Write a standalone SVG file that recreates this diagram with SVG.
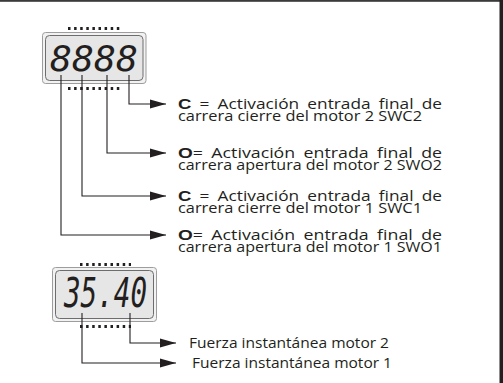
<svg xmlns="http://www.w3.org/2000/svg" width="503" height="383" viewBox="0 0 503 383">
<style>
.lbl{font-family:"Open Sans","Liberation Sans",sans-serif;font-size:14px;fill:#231f20}
.l1{word-spacing:3px}
.seg{font-family:"DejaVu Sans Mono",monospace;font-style:oblique;fill:#231f20}
.sym{font-family:"Liberation Sans",sans-serif;font-weight:bold;font-size:15px}
.wire{fill:none;stroke:#231f20;stroke-width:1.1}
.pins{stroke:#231f20;stroke-width:3;stroke-dasharray:2.5 3.6;fill:none}
.outer{fill:#f2f2f2;stroke:#9d9d9d;stroke-width:1}
.inner{fill:#e6e6e6;stroke:#6d6d6d;stroke-width:1}
</style>
<defs>
<marker id="ah" markerWidth="16" markerHeight="10" refX="16" refY="5" orient="auto" markerUnits="userSpaceOnUse"><path d="M0,0.5 L16,5 L0,9.5 z" fill="#231f20"/></marker>
</defs>
<rect x="0" y="0" width="503" height="1.8" fill="#3a3a3a"/>
<rect x="499.5" y="0" width="3.5" height="383" fill="#231f20"/>

<g id="display-top">
<path class="pins" d="M68,28.5 H120"/>
<path class="pins" d="M68,88.5 H120"/>
<rect class="outer" x="42.5" y="32.5" width="103.5" height="51" rx="3"/>
<rect class="inner" x="45.5" y="35.5" width="97.5" height="45" rx="4"/>
<text class="seg" x="50" y="71" font-size="36" textLength="88" lengthAdjust="spacingAndGlyphs">8888</text>
</g>

<g id="display-bottom">
<path class="pins" d="M80,264.5 H131"/>
<path class="pins" d="M80,326.5 H131"/>
<rect class="outer" x="52.5" y="267.5" width="104" height="54" rx="3"/>
<rect class="inner" x="55.5" y="270.5" width="98" height="48" rx="4"/>
<text class="seg" x="64" y="307" font-size="40" textLength="83" lengthAdjust="spacingAndGlyphs">35.40</text>
</g>

<g id="connectors">
<path class="wire" d="M129,75 V104 H166" marker-end="url(#ah)"/>
<path class="wire" d="M107,75 V153 H166" marker-end="url(#ah)"/>
<path class="wire" d="M82,75 V196 H166" marker-end="url(#ah)"/>
<path class="wire" d="M61,75 V235 H166" marker-end="url(#ah)"/>
<path class="wire" d="M130,313 V343 H176" marker-end="url(#ah)"/>
<path class="wire" d="M82,313 V363 H176" marker-end="url(#ah)"/>
</g>

<g id="label-swc2">
<text class="lbl l1" x="178" y="109" textLength="264" lengthAdjust="spacingAndGlyphs"><tspan class="sym">C</tspan> = Activación entrada final de</text>
<text class="lbl" x="178" y="120.5" textLength="244" lengthAdjust="spacingAndGlyphs">carrera cierre del motor 2 SWC2</text>
</g>
<g id="label-swo2">
<text class="lbl l1" x="178" y="158" textLength="264" lengthAdjust="spacingAndGlyphs"><tspan class="sym">O</tspan>= Activación entrada final de</text>
<text class="lbl" x="178" y="169.5" textLength="264" lengthAdjust="spacingAndGlyphs">carrera apertura del motor 2 SWO2</text>
</g>
<g id="label-swc1">
<text class="lbl l1" x="178" y="201" textLength="264" lengthAdjust="spacingAndGlyphs"><tspan class="sym">C</tspan> = Activación entrada final de</text>
<text class="lbl" x="178" y="212.5" textLength="244" lengthAdjust="spacingAndGlyphs">carrera cierre del motor 1 SWC1</text>
</g>
<g id="label-swo1">
<text class="lbl l1" x="178" y="240" textLength="264" lengthAdjust="spacingAndGlyphs"><tspan class="sym">O</tspan>= Activación entrada final de</text>
<text class="lbl" x="178" y="251.5" textLength="264" lengthAdjust="spacingAndGlyphs">carrera apertura del motor 1 SWO1</text>
</g>
<g id="label-force2">
<text class="lbl" x="189" y="348" textLength="200" lengthAdjust="spacingAndGlyphs">Fuerza instantánea motor 2</text>
</g>
<g id="label-force1">
<text class="lbl" x="192" y="368" textLength="200" lengthAdjust="spacingAndGlyphs">Fuerza instantánea motor 1</text>
</g>
</svg>
